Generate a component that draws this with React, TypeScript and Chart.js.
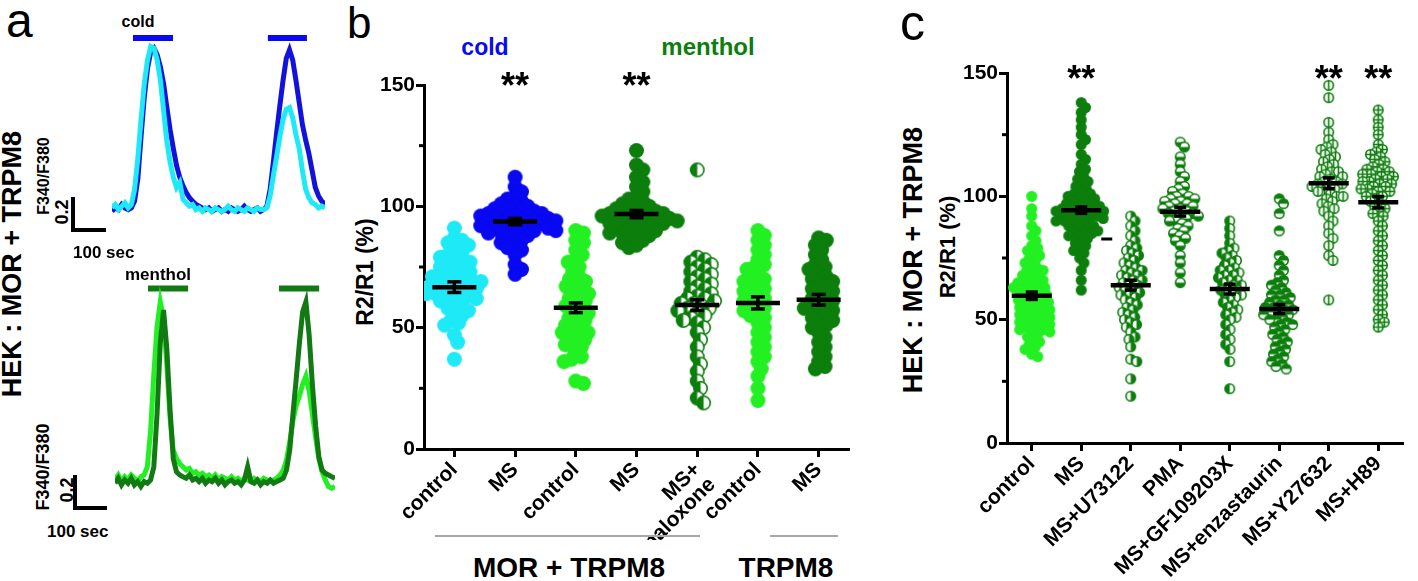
import React, { useEffect, useRef } from 'react';
import { Chart, registerables } from 'chart.js';
Chart.register(...registerables);

const FONT = "'Liberation Sans', Arial, Helvetica, sans-serif";
const CYAN = '#1ee9f7';
const BLUE = '#0808f2';
const LIME = '#22f022';
const DKGREEN = '#0c7e0c';
const TRACE_BLUE = '#1212dc';
const TRACE_DKGREEN = '#127a12';

// ---------------- panel a : F340/F380 traces, sampled every 10 s ----------------
const TRACE_STEP_S = 10;
const coldControlTrace = [
  0.03, 0.05, 0.02, 0.04, 0.06, 0.03, 0.05, 0.14, 0.32, 0.55,
  0.76, 0.9, 0.98, 0.97, 0.9, 0.78, 0.6, 0.42, 0.3, 0.21,
  0.15, 0.18, 0.08, 0.06, 0.04, 0.05, 0.02, 0.03, 0.01, 0.03,
  0.02, 0.01, 0.03, 0.02, 0.01, 0.02, 0.04, 0.02, 0.01, 0.03,
  0.02, 0.01, 0.03, 0.02, 0.01, 0.03, 0.02, 0.02, 0.03, 0.1,
  0.22, 0.33, 0.45, 0.55, 0.61, 0.62, 0.56, 0.46, 0.38, 0.25,
  0.14, 0.09, 0.06, 0.05, 0.03, 0.04, 0.03,
];
const coldMSTrace = [
  0.01, 0.03, 0.02, 0.05, 0.03, 0.02, 0.03, 0.07, 0.2, 0.45,
  0.68, 0.85, 0.95, 0.97, 0.93, 0.86, 0.76, 0.62, 0.49, 0.38,
  0.28, 0.21, 0.16, 0.12, 0.09, 0.07, 0.05, 0.04, 0.03, 0.02,
  0.03, 0.01, 0.02, 0.03, 0.01, 0.02, 0.01, 0.03, 0.02, 0.01,
  0.02, 0.04, 0.02, 0.01, 0.02, 0.03, 0.01, 0.02, 0.04, 0.14,
  0.3, 0.47, 0.63, 0.78, 0.91, 0.96, 0.9, 0.78, 0.65, 0.52,
  0.43, 0.35, 0.25, 0.15, 0.1, 0.07, 0.05,
];
const mentholControlTrace = [
  0.02, 0.05, 0.01, 0.04, 0.02, 0.05, 0.03, 0.01, 0.04, 0.05,
  0.1, 0.32, 0.66, 0.95, 1.1, 1.0, 0.72, 0.4, 0.2, 0.15,
  0.12, 0.1, 0.08, 0.09, 0.06, 0.07, 0.05, 0.06, 0.04, 0.05,
  0.03, 0.05, 0.02, 0.04, 0.03, 0.02, 0.04, 0.02, 0.03, 0.01,
  0.03, 0.02, 0.01, 0.03, 0.02, 0.01, 0.03, 0.02, 0.01, 0.02,
  0.03, 0.05, 0.08, 0.14, 0.25, 0.38, 0.47, 0.53, 0.6, 0.65,
  0.56, 0.42, 0.28, 0.15, 0.07, 0.02, -0.02, -0.03, -0.02,
];
const mentholMSTrace = [
  0, 0.03, -0.01, 0.02, 0, 0.03, -0.01, 0.01, -0.02, 0.01,
  0, 0.02, 0.1, 0.42, 0.85, 1.05, 0.82, 0.45, 0.15, 0.07,
  0.05, 0.04, 0.03, 0.05, 0.02, 0.03, 0.01, 0.03, 0, 0.02,
  0.01, 0.03, 0, 0.02, -0.01, 0.01, 0.02, 0, 0.01, -0.01,
  0.02, 0.1, 0.01, 0, 0.02, -0.01, 0.01, 0, 0.02, 0,
  0.01, 0.02, 0.03, 0.08, 0.2, 0.42, 0.63, 0.85, 1.04, 1.1,
  0.9, 0.6, 0.35, 0.16, 0.08, 0.06, 0.05, 0.04, 0.03,
];
const coldStimuli = [[65, 189], [483, 604]];
const mentholStimuli = [[102, 226], [507, 631]];

// ---------------- panel b ----------------
const bCategories: (string | string[])[] = ['control', 'MS', 'control', 'MS', ['MS+', 'naloxone'], 'control', 'MS'];
const bColdControl = [91, 87, 86, 85, 84, 82, 81, 80, 79, 78, 77, 77, 76, 75, 74, 73, 73, 72, 71, 71, 70, 70, 69, 69, 68, 68, 67, 67, 66, 66, 65, 65, 64, 64, 63, 63, 62, 62, 61, 60, 59, 58, 57, 56, 55, 53, 52, 51, 47, 44, 37];
const bColdMS = [112, 108, 106, 104, 103, 102, 101, 100, 100, 99, 99, 98, 98, 97, 97, 97, 96, 96, 96, 95, 95, 95, 94, 94, 94, 93, 93, 93, 92, 92, 92, 91, 91, 91, 90, 90, 90, 89, 89, 88, 88, 87, 86, 85, 84, 83, 82, 80, 76, 74, 72];
const bMentholControl = [90, 89, 86, 85, 82, 80, 78, 77, 75, 73, 71, 70, 69, 68, 67, 66, 65, 64, 63, 62, 61, 60, 59, 58, 57, 56, 55, 54, 53, 52, 51, 50, 49, 48, 48, 47, 46, 45, 44, 43, 42, 40, 38, 37, 36, 28, 27];
const bMentholMS = [123, 117, 115, 112, 110, 108, 106, 104, 103, 102, 101, 100, 100, 99, 99, 98, 98, 97, 97, 97, 96, 96, 96, 95, 95, 95, 94, 94, 94, 93, 93, 93, 92, 92, 91, 91, 90, 90, 89, 89, 88, 88, 87, 86, 85, 84, 83];
const bMentholNaloxone = [115, 79, 78, 77, 76, 75, 74, 73, 72, 71, 70, 69, 68, 67, 66, 65, 64, 63, 62, 62, 61, 60, 60, 59, 58, 58, 57, 56, 55, 54, 53, 52, 50, 48, 45, 42, 38, 35, 32, 28, 25, 21, 19];
const bTrpm8Control = [90, 88, 86, 84, 82, 80, 78, 76, 75, 74, 72, 71, 70, 69, 68, 67, 66, 65, 64, 63, 62, 61, 60, 59, 58, 57, 56, 55, 54, 52, 50, 48, 46, 44, 42, 40, 38, 36, 33, 30, 25, 20];
const bTrpm8MS = [87, 86, 84, 82, 80, 78, 76, 75, 74, 72, 71, 70, 69, 68, 67, 66, 65, 64, 63, 62, 61, 60, 59, 58, 58, 57, 56, 55, 54, 53, 52, 51, 50, 48, 46, 44, 42, 40, 38, 36, 34, 33];
const bMeans = [66.7, 93.7, 58.2, 96.8, 59.3, 60.2, 61.5];
const bSems = [2.2, 1.3, 2.0, 1.5, 2.2, 2.5, 2.2];
const bStarGroups = [1, 3];

// ---------------- panel c ----------------
const cCategories = ['control', 'MS', 'MS+U73122', 'PMA', 'MS+GF109203X', 'MS+enzastaurin', 'MS+Y27632', 'MS+H89'];
const cControl = [100, 95, 92, 88, 86, 84, 82, 80, 79, 78, 77, 76, 75, 74, 73, 72, 71, 70, 70, 69, 68, 68, 67, 66, 66, 65, 65, 64, 64, 63, 63, 62, 62, 61, 61, 60, 60, 59, 59, 58, 58, 57, 57, 56, 56, 55, 55, 54, 54, 53, 53, 52, 52, 51, 51, 50, 50, 49, 49, 48, 48, 47, 47, 46, 46, 45, 45, 44, 43, 42, 41, 40, 39, 38, 36, 35];
const cMS = [138, 136, 134, 131, 128, 125, 123, 121, 117, 115, 113, 111, 110, 108, 107, 106, 105, 104, 103, 102, 101, 101, 100, 100, 99, 99, 98, 98, 97, 97, 96, 96, 96, 95, 95, 95, 94, 94, 94, 93, 93, 93, 92, 92, 92, 91, 91, 91, 90, 90, 90, 89, 89, 88, 88, 87, 87, 86, 86, 85, 85, 84, 84, 83, 82, 81, 80, 79, 78, 77, 75, 73, 70, 66, 62];
const cU73122 = [92, 90, 88, 86, 84, 82, 80, 79, 78, 77, 76, 75, 74, 73, 72, 71, 70, 70, 69, 68, 68, 67, 66, 66, 65, 64, 64, 63, 62, 62, 61, 60, 60, 59, 58, 57, 56, 55, 54, 53, 52, 51, 50, 49, 48, 47, 45, 43, 42, 39, 34, 33, 26, 19];
const cPMA = [122, 120, 116, 113, 110, 108, 106, 104, 103, 102, 101, 100, 100, 99, 99, 98, 98, 97, 97, 96, 96, 95, 95, 94, 94, 93, 93, 92, 92, 91, 90, 90, 89, 88, 87, 86, 85, 84, 83, 82, 80, 76, 73, 69, 65];
const cGF109203X = [90, 87, 84, 81, 79, 78, 77, 76, 75, 74, 73, 72, 71, 70, 70, 69, 68, 68, 67, 66, 66, 65, 64, 64, 63, 62, 62, 61, 60, 60, 59, 58, 57, 56, 55, 54, 53, 52, 51, 50, 48, 46, 44, 42, 40, 38, 33, 22];
const cEnzastaurin = [99, 97, 93, 86, 76, 74, 72, 70, 68, 66, 65, 64, 63, 62, 61, 60, 60, 59, 58, 58, 57, 56, 56, 55, 55, 54, 54, 53, 53, 52, 52, 51, 50, 50, 49, 48, 48, 47, 46, 45, 44, 43, 42, 41, 40, 39, 38, 37, 36, 35, 34, 33, 32, 31, 30];
const cY27632 = [145, 140, 130, 126, 123, 121, 120, 119, 118, 117, 116, 115, 114, 113, 112, 111, 110, 110, 109, 108, 108, 107, 106, 106, 105, 105, 104, 104, 103, 102, 102, 101, 100, 100, 99, 98, 97, 96, 95, 94, 92, 90, 88, 85, 83, 80, 76, 74, 58];
const cH89 = [135, 131, 128, 125, 121, 119, 118, 117, 116, 115, 114, 113, 112, 111, 111, 110, 110, 109, 109, 108, 108, 107, 107, 106, 106, 105, 105, 104, 104, 103, 103, 102, 102, 101, 100, 100, 99, 98, 97, 96, 95, 94, 93, 92, 90, 88, 86, 84, 82, 80, 78, 76, 74, 72, 70, 68, 66, 64, 62, 60, 58, 56, 54, 52, 50, 49, 47];
const cMeans = [59.7, 94.4, 64.0, 93.8, 62.4, 54.3, 105.3, 97.6];
const cSems = [1.5, 1.3, 2.0, 1.8, 2.0, 1.8, 2.2, 2.3];
const cStarGroups = [1, 6, 7];
const cStrayDash = { group: 1, value: 82.7 };

const yTickValues = [0, 25, 50, 75, 100, 125, 150];
const yLabelEvery = 50;

// ---------------- helpers ----------------
function marker(kind: string, color: string, r: number): HTMLCanvasElement {
  const s = Math.ceil(2 * r + 2);
  const c = document.createElement('canvas');
  c.width = s; c.height = s;
  const g = c.getContext('2d')!;
  const cx = s / 2, cy = s / 2;
  const lw = 1.6;
  const rr = r - lw / 2;
  if (kind === 'filled') {
    g.fillStyle = color; g.beginPath(); g.arc(cx, cy, r, 0, 2 * Math.PI); g.fill();
    return c;
  }
  g.fillStyle = '#fff'; g.beginPath(); g.arc(cx, cy, rr, 0, 2 * Math.PI); g.fill();
  g.fillStyle = color;
  const half = (a0: number, a1: number) => { g.beginPath(); g.moveTo(cx, cy); g.arc(cx, cy, rr, a0, a1); g.closePath(); g.fill(); };
  if (kind === 'left') half(Math.PI / 2, 3 * Math.PI / 2);
  if (kind === 'right') half(-Math.PI / 2, Math.PI / 2);
  if (kind === 'bottom') half(0, Math.PI);
  if (kind === 'top') half(Math.PI, 2 * Math.PI);
  g.strokeStyle = color; g.lineWidth = lw;
  if (kind === 'vline' || kind === 'cross') {
    g.beginPath(); g.moveTo(cx, cy - rr); g.lineTo(cx, cy + rr);
    if (kind === 'cross') { g.moveTo(cx - rr, cy); g.lineTo(cx + rr, cy); }
    g.stroke();
  }
  g.beginPath(); g.arc(cx, cy, rr, 0, 2 * Math.PI); g.stroke();
  return c;
}

// deterministic beeswarm: horizontal offsets (px) so that points don't overlap more than allowed
function swarm(values: number[], yPx: number, d: number): number[] {
  const order = values.map((_, i) => i).sort((a, b) => values[b] - values[a]);
  const placed: { x: number; y: number }[] = [];
  const res = new Array(values.length).fill(0);
  for (const i of order) {
    const y = values[i] * yPx;
    const cands = [0];
    for (const p of placed) {
      const dy = Math.abs(p.y - y);
      if (dy < d) {
        const dx = Math.sqrt(d * d - dy * dy);
        cands.push(p.x + dx + 0.01, p.x - dx - 0.01);
      }
    }
    cands.sort((a, b) => Math.abs(a) - Math.abs(b));
    let best = 0;
    for (const c of cands) {
      if (placed.every((p) => (p.x - c) ** 2 + (p.y - y) ** 2 >= d * d - 0.05)) { best = c; break; }
    }
    placed.push({ x: best, y });
    res[i] = best;
  }
  return res;
}

type SwarmOpts = {
  width: number; height: number; yAxisW: number; xAxisH: number; padTop: number; padRight: number;
  labels: (string | string[])[]; groups: number[][]; markers: HTMLCanvasElement[]; radius: number; gap: number;
  means: number[]; sems: number[]; stars: number[]; starValue: number; halfW: number; capW: number;
  stray?: { group: number; value: number };
};

function swarmConfig(p: SwarmOpts): any {
  const n = p.labels.length;
  const xPx = (p.width - p.yAxisW - p.padRight) / n;
  const yPx = (p.height - p.xAxisH - p.padTop) / 150;
  const datasets = p.groups.map((vals, g) => {
    const off = swarm(vals, yPx, p.gap);
    return {
      data: vals.map((v, i) => ({ x: g + off[i] / xPx, y: v })),
      pointStyle: p.markers[g],
      pointRadius: p.radius,
      pointHoverRadius: p.radius,
      showLine: false,
    };
  });
  const tickFont = { family: FONT, size: 21, weight: 'bold' as const };
  const labFont = { family: FONT, size: 21, weight: 'bold' as const, lineHeight: 1.0 };
  const meanPlugin = {
    id: 'meanSem',
    afterDatasetsDraw(chart: any) {
      const { ctx } = chart;
      const xs = chart.scales.x, ys = chart.scales.y;
      const seg = (x1: number, y1: number, x2: number, y2: number) => { ctx.beginPath(); ctx.moveTo(x1, y1); ctx.lineTo(x2, y2); ctx.stroke(); };
      ctx.save();
      ctx.strokeStyle = '#000';
      // minor y ticks (shorter)
      ctx.lineWidth = 3;
      yTickValues.filter((v) => v % yLabelEvery !== 0).forEach((v) => {
        const py = ys.getPixelForValue(v);
        seg(chart.chartArea.left - 5, py, chart.chartArea.left, py);
      });
      p.means.forEach((m, i) => {
        const px = xs.getPixelForValue(i);
        const py = ys.getPixelForValue(m);
        const t = ys.getPixelForValue(m + p.sems[i]);
        const b = ys.getPixelForValue(m - p.sems[i]);
        ctx.lineWidth = 3.5;
        seg(px, t, px, b);
        seg(px - p.capW, t, px + p.capW, t);
        seg(px - p.capW, b, px + p.capW, b);
        ctx.lineWidth = 4.5;
        seg(px - p.halfW, py, px + p.halfW, py);
      });
      if (p.stray) {
        const px = xs.getPixelForValue(p.stray.group);
        const py = ys.getPixelForValue(p.stray.value);
        ctx.lineWidth = 3;
        seg(px + p.halfW, py, px + p.halfW + 11, py);
      }
      ctx.fillStyle = '#000';
      ctx.font = `bold 36px ${FONT}`;
      ctx.textAlign = 'center';
      ctx.textBaseline = 'alphabetic';
      p.stars.forEach((g) => ctx.fillText('**', xs.getPixelForValue(g), ys.getPixelForValue(p.starValue)));
      ctx.restore();
    },
  };
  return {
    type: 'scatter',
    data: { datasets },
    plugins: [meanPlugin],
    options: {
      animation: false,
      responsive: false,
      maintainAspectRatio: false,
      events: [],
      layout: { padding: { top: p.padTop, right: p.padRight, left: 0, bottom: 0 } },
      plugins: { legend: { display: false }, tooltip: { enabled: false } },
      scales: {
        x: {
          type: 'linear', min: -0.5, max: n - 0.5,
          afterBuildTicks: (s: any) => { s.ticks = p.labels.map((_, i) => ({ value: i })); },
          afterFit: (s: any) => { s.height = p.xAxisH; },
          ticks: { callback: (v: number) => p.labels[v], minRotation: 45, maxRotation: 45, autoSkip: false, color: '#000', font: labFont, padding: 2 },
          grid: { drawOnChartArea: false, drawTicks: true, tickLength: 8, tickWidth: 3, tickColor: '#000' },
          border: { color: '#000', width: 3 },
        },
        y: {
          type: 'linear', min: 0, max: 150,
          afterBuildTicks: (s: any) => { s.ticks = yTickValues.map((v) => ({ value: v })); },
          afterFit: (s: any) => { s.width = p.yAxisW; },
          ticks: { callback: (v: number) => (v % yLabelEvery === 0 ? String(v) : ''), color: '#000', font: tickFont, padding: 1 },
          grid: {
            drawOnChartArea: false, drawTicks: true, tickLength: 8, tickWidth: 3,
            tickColor: (c: any) => (c.tick && c.tick.value % yLabelEvery === 0 ? '#000' : 'rgba(0,0,0,0)'),
          },
          border: { color: '#000', width: 3 },
        },
      },
    },
  };
}

function traceConfig(traces: { values: number[]; color: string }[], stimuli: number[][], stimColor: string, stimLevel: number, tMax: number, yMin: number, yMax: number): any {
  const datasets: any[] = traces.map((t) => ({
    data: t.values.map((v, i) => ({ x: i * TRACE_STEP_S, y: v })),
    borderColor: t.color, borderWidth: 5, pointRadius: 0, tension: 0, clip: false, fill: false,
  }));
  stimuli.forEach((s) => datasets.push({
    data: [{ x: s[0], y: stimLevel }, { x: s[1], y: stimLevel }],
    borderColor: stimColor, borderWidth: 6, pointRadius: 0, clip: false, borderCapStyle: 'butt',
  }));
  return {
    type: 'line',
    data: { datasets },
    options: {
      animation: false, responsive: false, maintainAspectRatio: false, events: [],
      layout: { padding: 0 },
      plugins: { legend: { display: false }, tooltip: { enabled: false } },
      scales: {
        x: { type: 'linear', display: false, min: 0, max: tMax },
        y: { type: 'linear', display: false, min: yMin, max: yMax },
      },
    },
  };
}

function ChartCanvas({ left, top, width, height, make }: { left: number; top: number; width: number; height: number; make: () => any }) {
  const ref = useRef<HTMLCanvasElement>(null);
  useEffect(() => {
    const ch = new Chart(ref.current!, make());
    return () => ch.destroy();
  }, []);
  return <canvas ref={ref} width={width} height={height} style={{ position: 'absolute', left, top, width, height }} />;
}

function Label({ x, y, size, text, color = '#000', bold = true, align = 'left', rotate = false }:
  { x: number; y: number; size: number; text: string; color?: string; bold?: boolean; align?: 'left' | 'center'; rotate?: boolean }) {
  const style: React.CSSProperties = {
    position: 'absolute', fontFamily: FONT, fontSize: size, fontWeight: bold ? 700 : 400, color,
    lineHeight: 1, whiteSpace: 'nowrap', left: x,
  };
  if (rotate) {
    style.top = y;
    style.transform = 'translate(-50%,-50%) rotate(-90deg)';
  } else {
    style.top = y - 0.8465 * size;
    if (align === 'center') style.transform = 'translateX(-50%)';
  }
  return <div style={style}>{text}</div>;
}

function Bar({ x, y, w, h, color = '#000' }: { x: number; y: number; w: number; h: number; color?: string }) {
  return <div style={{ position: 'absolute', left: x, top: y, width: w, height: h, background: color }} />;
}

export default function App() {
  const makeB = () => swarmConfig({
    width: 530, height: 480, yAxisW: 84, xAxisH: 91, padTop: 25, padRight: 21,
    labels: bCategories,
    groups: [bColdControl, bColdMS, bMentholControl, bMentholMS, bMentholNaloxone, bTrpm8Control, bTrpm8MS],
    markers: [
      marker('filled', CYAN, 7.5), marker('filled', BLUE, 7.5), marker('filled', LIME, 7.5), marker('filled', DKGREEN, 7.5),
      marker('left', DKGREEN, 7.5), marker('filled', LIME, 7.5), marker('filled', DKGREEN, 7.5),
    ],
    radius: 7.5, gap: 8,
    means: bMeans, sems: bSems, stars: bStarGroups, starValue: 144.8, halfW: 22, capW: 7,
  });
  const makeC = () => swarmConfig({
    width: 468, height: 541, yAxisW: 57, xAxisH: 138, padTop: 33, padRight: 15,
    labels: cCategories,
    groups: [cControl, cMS, cU73122, cPMA, cGF109203X, cEnzastaurin, cY27632, cH89],
    markers: [
      marker('filled', LIME, 5.5), marker('filled', DKGREEN, 5.5), marker('right', DKGREEN, 5.5), marker('bottom', DKGREEN, 5.5),
      marker('left', DKGREEN, 5.5), marker('top', DKGREEN, 5.5), marker('vline', DKGREEN, 5.5), marker('cross', DKGREEN, 5.5),
    ],
    radius: 5.5, gap: 6.5,
    means: cMeans, sems: cSems, stars: cStarGroups, starValue: 142.8, halfW: 20, capW: 6,
    stray: cStrayDash,
  });
  const makeTop = () => traceConfig(
    [{ values: coldControlTrace, color: CYAN }, { values: coldMSTrace, color: TRACE_BLUE }],
    coldStimuli, BLUE, 1.03, 660, -0.1, 1.1);
  const makeBottom = () => traceConfig(
    [{ values: mentholMSTrace, color: TRACE_DKGREEN }, { values: mentholControlTrace, color: LIME }],
    mentholStimuli, TRACE_DKGREEN, 1.18, 680, -0.15, 1.25);

  return (
    <div style={{ position: 'absolute', left: 0, top: 0, width: 1418, height: 581, overflow: 'hidden', background: '#fff' }}>
      {/* panel a */}
      <Label x={6} y={38} size={48} text="a" bold={false} />
      <Label x={12} y={264} size={27} text="HEK : MOR + TRPM8" rotate />
      <Label x={138} y={28} size={16} text="cold" align="center" />
      <ChartCanvas left={112} top={26} width={213} height={204} make={makeTop} />
      <Label x={44} y={176} size={16} text="F340/F380" rotate />
      <Label x={62} y={212} size={18} text="0.2" rotate />
      <Bar x={71} y={197} w={4} h={35} />
      <Bar x={71} y={228} w={35} h={4} />
      <Label x={73} y={258} size={17} text="100 sec" />
      <Label x={158} y={280} size={17} text="menthol" align="center" />
      <ChartCanvas left={115} top={277} width={220} height={231} make={makeBottom} />
      <Label x={43} y={467} size={18} text="F340/F380" rotate />
      <Label x={67} y={490} size={18} text="0.2" rotate />
      <Bar x={73} y={475} w={4} h={35} />
      <Bar x={73} y={506} w={34} h={4} />
      <Label x={47} y={537} size={17} text="100 sec" />

      {/* panel b */}
      <Label x={347} y={38} size={44} text="b" bold={false} />
      <Label x={485} y={55} size={23} text="cold" color={BLUE} align="center" />
      <Label x={708} y={55} size={24} text="menthol" color={DKGREEN} align="center" />
      <Label x={365} y={272} size={23} text="R2/R1 (%)" rotate />
      <ChartCanvas left={340} top={60} width={530} height={480} make={makeB} />
      <Bar x={435} y={535} w={265} h={2} color="#a8a8a8" />
      <Bar x={770} y={535} w={68} h={2} color="#a8a8a8" />
      <Label x={569} y={578} size={28} text="MOR + TRPM8" align="center" />
      <Label x={786} y={578} size={28} text="TRPM8" align="center" />

      {/* panel c */}
      <Label x={900} y={40} size={50} text="c" bold={false} />
      <Label x={913} y={260} size={27} text="HEK : MOR + TRPM8" rotate />
      <Label x={948} y={247} size={22} text="R2/R1 (%)" rotate />
      <ChartCanvas left={950} top={40} width={468} height={541} make={makeC} />
    </div>
  );
}
